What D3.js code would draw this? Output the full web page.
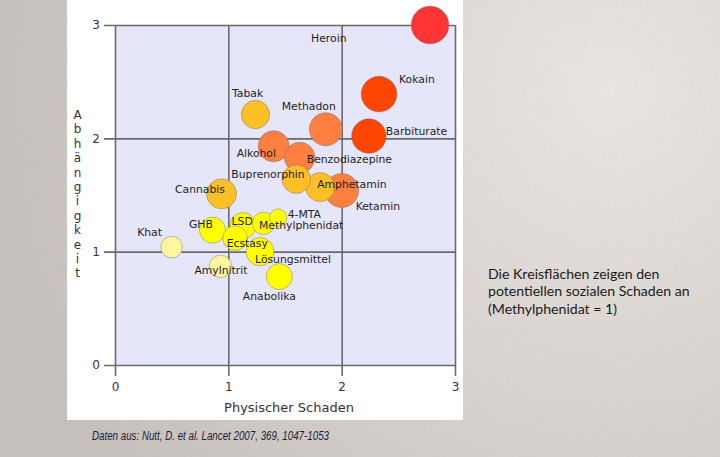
<!DOCTYPE html>
<html>
<head>
<meta charset="utf-8">
<script src="https://cdn.jsdelivr.net/npm/d3@7"></script>
<style>
	html, body { margin: 0; padding: 0; background: #d7d2cd; }
	svg { display: block; }
</style>
</head>
<body>
<div id="chart"></div>
<script>
// Drugs ordered by overall harm rank (Nutt et al. 2007)
const drugs = ["Heroin", "Kokain", "Barbiturate", "Methadon", "Alkohol", "Ketamin",
			   "Benzodiazepine", "Amphetamin", "Tabak", "Buprenorphin", "Cannabis",
			   "Lösungsmittel", "4-MTA", "LSD", "Methylphenidat", "Anabolika", "GHB",
			   "Ecstasy", "Amylnitrit", "Khat"];
const rank = [1, 2, 3, 4, 5, 6, 7, 8, 9, 10, 11, 12, 13, 14, 15, 16, 17, 18, 19, 20];
// Mean physical harm (x)
const physical = [2.78, 2.33, 2.24, 1.86, 1.40, 2.00, 1.63, 1.81, 1.24, 1.60, 0.94,
				  1.28, 1.44, 1.13, 1.31, 1.45, 0.86, 1.06, 0.93, 0.50];
// Mean dependence (y)
const dependence = [3.00, 2.39, 2.02, 2.08, 1.93, 1.54, 1.83, 1.57, 2.21, 1.64, 1.51,
					1.00, 1.30, 1.23, 1.25, 0.78, 1.19, 1.12, 0.87, 1.04];
// Social harm relative to Methylphenidat (circle area)
const social = [2.82, 2.53, 2.36, 2.17, 1.92, 2.30, 1.87, 1.68, 1.61, 1.61, 1.79,
				1.56, 0.60, 1.35, 1.00, 1.35, 1.35, 1.21, 1.00, 0.93];
const ticks = [0, 1, 2, 3];

const xTitle = "Physischer Schaden";
const yTitle = "Abhängigkeit";
const note = ["Die Kreisflächen zeigen den", "potentiellen sozialen Schaden an", "(Methylphenidat = 1)"];
const source = "Daten aus: Nutt, D. et al. Lancet 2007, 369, 1047-1053";

// Label placement relative to the circle centre (text start, baseline), in px
const labelOffset = {
	"Heroin": [-119, 16.5], "Kokain": [20, -11], "Barbiturate": [17, -1.5],
	"Methadon": [-44, -19.5], "Alkohol": [-37, 10.5], "Ketamin": [14, 19.5],
	"Benzodiazepine": [7, 5.5], "Amphetamin": [-3, 0.5], "Tabak": [-23.5, -17.5],
	"Buprenorphin": [-65, -1], "Cannabis": [-46.5, -1], "Lösungsmittel": [-5, 11],
	"4-MTA": [9.5, 0.5], "LSD": [-11.5, -1], "Methylphenidat": [-4.5, 5.5],
	"Anabolika": [-36.5, 23.5], "GHB": [-23.5, -2], "Ecstasy": [-8.5, 8.5],
	"Amylnitrit": [-26, 7.5], "Khat": [-34.5, -11]
};

const width = 720, height = 457;
const plot = { left: 115, right: 455, top: 25, bottom: 365, tick: 11 };

const svg = d3.select("#chart").append("svg")
			.attr("width", width)
			.attr("height", height);

// Paper-like background: light in the upper right, darker towards the edges
const defs = svg.append("defs");
const glow = defs.append("radialGradient").attr("id", "glow")
				.attr("gradientUnits", "userSpaceOnUse")
				.attr("cx", 610).attr("cy", 90).attr("r", 620);
glow.append("stop").attr("offset", "0%").attr("stop-color", "#ebe7e3");
glow.append("stop").attr("offset", "45%").attr("stop-color", "#dcd7d2");
glow.append("stop").attr("offset", "100%").attr("stop-color", "#c6c1bc");

const paper = defs.append("filter").attr("id", "paper")
				.attr("x", 0).attr("y", 0).attr("width", 1).attr("height", 1);
paper.append("feTurbulence")
	.attr("type", "fractalNoise")
	.attr("baseFrequency", "0.9 0.08")
	.attr("numOctaves", 2)
	.attr("seed", 3);
paper.append("feColorMatrix")
	.attr("type", "matrix")
	.attr("values", "0 0 0 0 0.45  0 0 0 0 0.42  0 0 0 0 0.40  0 0 0 0.35 0");

svg.append("rect").attr("width", width).attr("height", height).attr("fill", "url(#glow)");
svg.append("rect").attr("width", width).attr("height", height)
	.attr("filter", "url(#paper)").attr("opacity", 0.3);

// White panel behind the chart
svg.append("rect")
	.attr("x", 67).attr("y", 0)
	.attr("width", 396).attr("height", 420)
	.attr("fill", "#ffffff");

const x = d3.scaleLinear().domain([0, 3]).range([plot.left, plot.right]);
const y = d3.scaleLinear().domain([0, 3]).range([plot.bottom, plot.top]);
// Area proportional to social harm, Methylphenidat = 1
const r = d3.scaleSqrt().domain([0, 1]).range([0, 11.2]);
const colour = d3.scaleThreshold()
				.domain([2, 4, 8, 12, 19])
				.range(["#ff3434", "#ff4500", "#ff7f40", "#fcbf26", "#ffff00", "#fff59e"]);

svg.append("rect")
	.attr("x", plot.left).attr("y", plot.top)
	.attr("width", plot.right - plot.left).attr("height", plot.bottom - plot.top)
	.attr("fill", "#e6e6fa");

// Axes double as grid: ticks run across the plot and stick out by plot.tick
const xAxis = svg.append("g")
				.attr("transform", `translate(0, ${plot.top})`)
				.call(d3.axisBottom(x).tickValues(ticks).tickFormat(d3.format("d"))
					.tickSize(plot.bottom - plot.top + plot.tick).tickPadding(6));
const yAxis = svg.append("g")
				.attr("transform", `translate(${plot.right}, 0)`)
				.call(d3.axisLeft(y).tickValues(ticks).tickFormat(d3.format("d"))
					.tickSize(plot.right - plot.left + plot.tick).tickPadding(4));

[xAxis, yAxis].forEach((axis) => {
	axis.select(".domain").remove();
	axis.selectAll(".tick line").attr("stroke", "#6a6a6a").attr("stroke-width", 1.6);
	axis.selectAll(".tick text")
		.attr("fill", "#333")
		.style("font-family", "'DejaVu Sans', sans-serif")
		.style("font-size", "12px");
});

const rows = drugs.map((name, i) => ({
	name: name, rank: rank[i], x: physical[i], y: dependence[i], social: social[i]
}));

// Big circles first so the small ones stay visible
const circleOrder = rows.slice().sort((a, b) => b.social - a.social);

svg.append("g")
	.selectAll("circle")
	.data(circleOrder)
	.enter()
	.append("circle")
	.attr("cx", (d) => x(d.x))
	.attr("cy", (d) => y(d.y))
	.attr("r", (d) => r(d.social))
	.attr("fill", (d) => colour(d.rank))
	.attr("stroke", "rgba(110, 110, 110, 0.45)")
	.attr("stroke-width", 1);

svg.append("g")
	.selectAll("text")
	.data(rows)
	.enter()
	.append("text")
	.attr("x", (d) => x(d.x) + labelOffset[d.name][0])
	.attr("y", (d) => y(d.y) + labelOffset[d.name][1])
	.attr("fill", "#1e1e1e")
	.style("font-family", "'DejaVu Sans', sans-serif")
	.style("font-size", "10.8px")
	.text((d) => d.name);

// Axis titles
svg.append("text")
	.attr("x", (plot.left + plot.right) / 2 + 4)
	.attr("y", 411.5)
	.attr("text-anchor", "middle")
	.attr("fill", "#333")
	.style("font-family", "'DejaVu Sans', sans-serif")
	.style("font-size", "13px")
	.text(xTitle);

// Vertical title, one upright letter per line
svg.append("g")
	.selectAll("text")
	.data(yTitle.split(""))
	.enter()
	.append("text")
	.attr("x", 77.5)
	.attr("y", (d, i) => 115 + i * 14.4)
	.attr("text-anchor", "middle")
	.attr("dominant-baseline", "central")
	.attr("fill", "#333")
	.style("font-family", "'DejaVu Sans', sans-serif")
	.style("font-size", "12px")
	.text((d) => d);

// Note on the right
svg.append("g")
	.selectAll("text")
	.data(note)
	.enter()
	.append("text")
	.attr("x", 488)
	.attr("y", (d, i) => 278.5 + i * 17.5)
	.attr("fill", "#1a1a1a")
	.style("font-family", "Lato, 'Noto Sans', sans-serif")
	.style("font-size", "14.1px")
	.text((d) => d);

svg.append("text")
	.attr("x", 92)
	.attr("y", 440)
	.attr("fill", "#1d1d3a")
	.attr("textLength", 237)
	.attr("lengthAdjust", "spacingAndGlyphs")
	.style("font-family", "'Liberation Sans Narrow', 'Liberation Sans', sans-serif")
	.style("font-style", "italic")
	.style("font-size", "12px")
	.text(source);
</script>
</body>
</html>
